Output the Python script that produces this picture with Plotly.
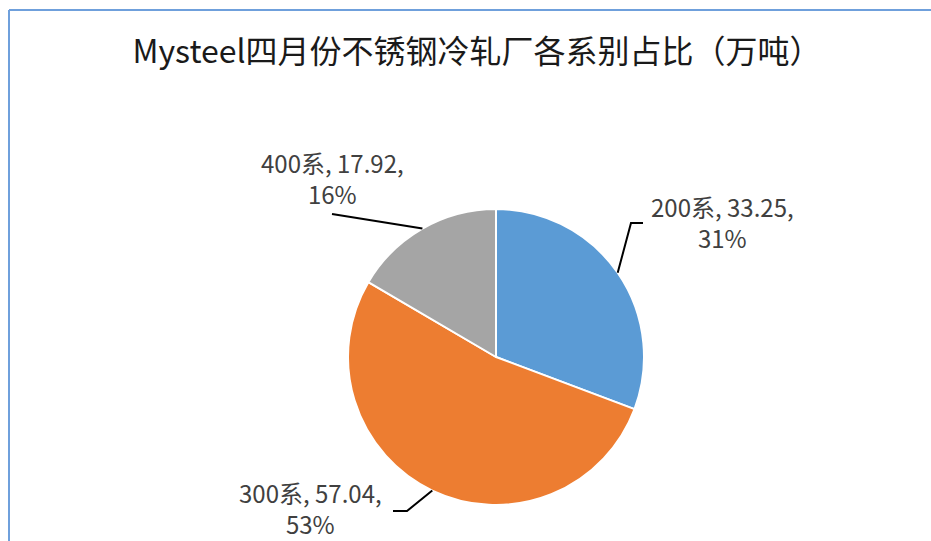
import math
import plotly.graph_objects as go

# ---- data ----
categories = ["200系", "300系", "400系"]
values = [33.25, 57.04, 17.92]
value_labels = ["33.25", "57.04", "17.92"]
percent_labels = ["31%", "53%", "16%"]
colors = ["#5b9bd5", "#ed7d31", "#a5a5a5"]

W, H = 931, 541
FONT = "Noto Sans CJK SC"

# pie placement in pixels
cx, cy, R = 496, 357, 148

def px(x):
    return x / W

def py(y):
    return 1 - y / H

# label layout (pixel positions: text centre, leader start, elbow length)
label_layout = [
    dict(tx=722, ty=222, lx=643, ly=223, elbow=-12),
    dict(tx=310, ty=508, lx=393, ly=511, elbow=14),
    dict(tx=332, ty=178, lx=332, ly=214, elbow=0),
]

fig = go.Figure()
fig.add_trace(go.Pie(
    labels=categories,
    values=values,
    sort=False,
    direction="clockwise",
    rotation=0,
    textinfo="none",
    marker=dict(colors=colors, line=dict(color="white", width=2)),
    domain=dict(x=[px(cx - R), px(cx + R)], y=[py(cy + R), py(cy - R)]),
    showlegend=False,
))

total = sum(values)
cum = 0.0
shapes = []
annotations = []
for cat, v, vl, pl, lay in zip(categories, values, value_labels, percent_labels, label_layout):
    mid = (cum + v / 2) / total * 2 * math.pi
    cum += v
    ex = cx + R * math.sin(mid)
    ey = cy - R * math.cos(mid)
    x0, y0 = lay["lx"], lay["ly"]
    x1 = x0 + lay["elbow"]
    path = f"M {px(x0)} {py(y0)} L {px(x1)} {py(y0)} L {px(ex)} {py(ey)}"
    shapes.append(dict(type="path", xref="paper", yref="paper", path=path,
                       line=dict(color="#000000", width=2)))
    annotations.append(dict(
        x=px(lay["tx"]), y=py(lay["ty"]), xref="paper", yref="paper",
        text=f"{cat}, {vl},<br>{pl}", showarrow=False,
        xanchor="center", yanchor="middle", align="center",
        font=dict(family=FONT, size=24, color="#404040"),
    ))

# outer border (left and top)
shapes.append(dict(type="line", xref="paper", yref="paper",
                   x0=px(9), y0=py(10), x1=px(9), y1=0,
                   line=dict(color="#6fa0dc", width=2)))
shapes.append(dict(type="line", xref="paper", yref="paper",
                   x0=px(9), y0=py(10), x1=1, y1=py(10),
                   line=dict(color="#6fa0dc", width=2)))

fig.update_layout(
    width=W, height=H,
    margin=dict(l=0, r=0, t=0, b=0),
    paper_bgcolor="white",
    plot_bgcolor="white",
    title=dict(text="Mysteel四月份不锈钢冷轧厂各系别占比（万吨）",
               x=477 / W, xanchor="center", y=py(52), yanchor="middle",
               font=dict(family=FONT, size=32, color="#1a1a1a")),
    shapes=shapes,
    annotations=annotations,
)

fig.write_html("out.html", config={"displayModeBar": False},
               post_script="document.body.style.margin='0px';document.body.style.overflow='hidden';")
